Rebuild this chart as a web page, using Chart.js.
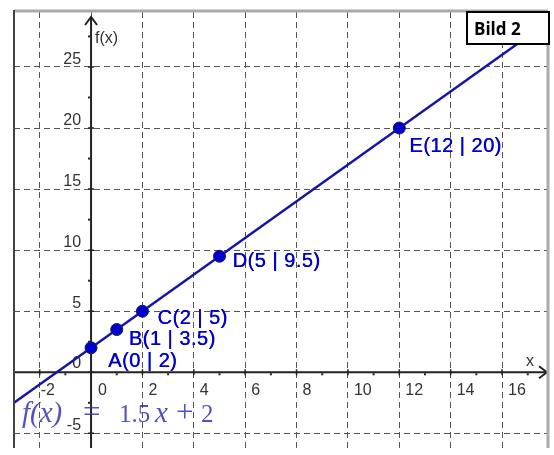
<!doctype html>
<html>
<head>
<meta charset="UTF-8">
<title>Bild 2</title>
<script src="https://cdn.jsdelivr.net/npm/chart.js"></script>
<style>
  html, body { margin: 0; padding: 0; background: #fff; }
</style>
</head>
<body>
<canvas id="chart" width="554" height="455"></canvas>
<script>
// data
const pointNames = ["A", "B", "C", "D", "E"];
const pointX = [0, 1, 2, 5, 12];
const pointY = [2, 3.5, 5, 9.5, 20];
const lineX = [-3, 18];
const lineY = [-2.5, 29];
const xTicks = [-2, 0, 2, 4, 6, 8, 10, 12, 14, 16];
const yTicks = [-5, 0, 5, 10, 15, 20, 25];
const xMinor = [-3, -1, 1, 3, 5, 7, 9, 11, 13, 15, 17];
const yMinor = [-2.5, 2.5, 7.5, 12.5, 17.5, 22.5, 27.5];

// label offsets (px) from each point
const labelOffsets = [[17, 19], [12, 15], [15, 13], [13, 11], [10, 24]];

const geoPlugin = {
  id: "geo",
  beforeDatasetsDraw(chart) {
    const { ctx, chartArea: a, scales: { x, y } } = chart;
    const x0 = x.getPixelForValue(0);
    const y0 = y.getPixelForValue(0);
    ctx.save();
    // axes
    ctx.strokeStyle = "#222";
    ctx.lineWidth = 2;
    ctx.beginPath();
    ctx.moveTo(a.left, y0); ctx.lineTo(a.right, y0);
    ctx.moveTo(x0, a.bottom); ctx.lineTo(x0, a.top + 5);
    ctx.stroke();
    // arrows
    ctx.beginPath();
    ctx.moveTo(a.right - 8, y0 - 6); ctx.lineTo(a.right, y0); ctx.lineTo(a.right - 8, y0 + 6);
    ctx.moveTo(x0 - 6, a.top + 13); ctx.lineTo(x0, a.top + 5); ctx.lineTo(x0 + 6, a.top + 13);
    ctx.stroke();
    // tick marks
    ctx.lineWidth = 1.5;
    ctx.beginPath();
    xTicks.forEach(v => { const p = x.getPixelForValue(v); ctx.moveTo(p, y0 - 3); ctx.lineTo(p, y0 + 3); });
    yTicks.forEach(v => { const p = y.getPixelForValue(v); ctx.moveTo(x0 - 3, p); ctx.lineTo(x0 + 3, p); });
    ctx.stroke();
    ctx.fillStyle = "#222";
    xMinor.forEach(v => { const p = x.getPixelForValue(v); ctx.fillRect(p - 1, y0 + 1, 2, 2); });
    yMinor.forEach(v => { const p = y.getPixelForValue(v); ctx.fillRect(x0 - 3, p - 1, 2, 2); });
    // tick labels
    ctx.fillStyle = "#333";
    ctx.font = "16px 'Liberation Sans', Arial, sans-serif";
    ctx.textBaseline = "alphabetic";
    ctx.textAlign = "left";
    xTicks.forEach(v => {
      const p = x.getPixelForValue(v);
      ctx.fillText(String(v), v === 0 ? p + 7 : p + (v < 0 ? 1 : 6), y0 + 23);
    });
    ctx.textAlign = "right";
    yTicks.forEach(v => {
      const p = y.getPixelForValue(v);
      ctx.fillText(String(v), x0 - 10, v === 0 ? p - 4 : p - 3);
    });
    // axis names
    ctx.textAlign = "left";
    ctx.fillText("f(x)", x0 + 4, a.top + 31);
    ctx.fillText("x", a.right - 21, y0 - 6);
    ctx.restore();
  },
  afterDatasetsDraw(chart) {
    const { ctx, chartArea: a, scales: { x, y } } = chart;
    ctx.save();
    // point labels
    ctx.fillStyle = "#0000cc";
    ctx.font = "20px 'Liberation Sans', Arial, sans-serif";
    ctx.letterSpacing = "0.5px";
    ctx.textAlign = "left";
    ctx.textBaseline = "alphabetic";
    pointNames.forEach((n, i) => {
      const px = x.getPixelForValue(pointX[i]);
      const py = y.getPixelForValue(pointY[i]);
      const t = `${n}(${pointX[i]} | ${pointY[i]})`;
      ctx.fillText(t, px + labelOffsets[i][0], py + labelOffsets[i][1]);
      ctx.fillText(t, px + labelOffsets[i][0] + 0.4, py + labelOffsets[i][1]);
    });
    ctx.letterSpacing = "0px";
    // formula
    ctx.globalAlpha = 0.85;
    ctx.fillStyle = "#3434b4";
    const base = 422;
    const it = "italic 29px 'Liberation Serif', 'DejaVu Serif', serif";
    const num = "25px 'Liberation Serif', 'DejaVu Serif', serif";
    const op = "31px 'Liberation Serif', 'DejaVu Serif', serif";
    [["f(x)", it, 22], ["=", op, 83], ["1.5", num, 119], ["x", it, 155], ["+", op, 176], ["2", num, 201]]
      .forEach(([t, f, px]) => { ctx.font = f; ctx.fillText(t, px, base); });
    ctx.globalAlpha = 1;
    // frame
    ctx.strokeStyle = "#aaa";
    ctx.lineWidth = 3;
    ctx.beginPath();
    ctx.moveTo(a.left, a.top - 1); ctx.lineTo(a.right + 1, a.top - 1);
    ctx.moveTo(a.right + 1, a.top); ctx.lineTo(a.right + 1, a.bottom);
    ctx.stroke();
    ctx.strokeStyle = "#444";
    ctx.lineWidth = 2;
    ctx.beginPath();
    ctx.moveTo(a.left, a.top - 2); ctx.lineTo(a.left, a.bottom);
    ctx.stroke();
    // title box
    ctx.fillStyle = "#fff";
    ctx.fillRect(467, 12, 82, 32);
    ctx.strokeStyle = "#000";
    ctx.lineWidth = 2;
    ctx.strokeRect(467, 12, 82, 32);
    ctx.fillStyle = "#000";
    ctx.font = "bold 17px 'Open Sans', 'Liberation Sans', sans-serif";
    ctx.fillText("Bild 2", 474, 35);
    ctx.restore();
  }
};

new Chart("chart", {
  type: "scatter",
  data: {
    datasets: [
      {
        data: lineX.map((v, i) => ({ x: v, y: lineY[i] })),
        showLine: true,
        borderColor: "#1414a8",
        borderWidth: 2.5,
        pointRadius: 0,
        order: 2,
      },
      {
        data: pointX.map((v, i) => ({ x: v, y: pointY[i] })),
        backgroundColor: "#0000cc",
        borderColor: "#1a1a55",
        borderWidth: 1,
        pointRadius: 6,
        order: 1,
      },
    ],
  },
  options: {
    responsive: false,
    animation: false,
    devicePixelRatio: 1,
    layout: { padding: { left: 14, right: 7, top: 12, bottom: 0 } },
    plugins: { legend: { display: false }, tooltip: { enabled: false } },
    scales: {
      x: {
        type: "linear",
        min: -3,
        max: 17.75,
        afterBuildTicks: (s) => { s.ticks = xTicks.map(v => ({ value: v })); },
        ticks: { display: false },
        grid: { color: "#555", lineWidth: 1, drawTicks: false },
        border: { display: false, dash: [6, 4] },
      },
      y: {
        type: "linear",
        min: -6.2,
        max: 29.5,
        afterBuildTicks: (s) => { s.ticks = yTicks.map(v => ({ value: v })); },
        ticks: { display: false },
        grid: { color: "#555", lineWidth: 1, drawTicks: false },
        border: { display: false, dash: [6, 4] },
      },
    },
  },
  plugins: [geoPlugin],
});
</script>
</body>
</html>
